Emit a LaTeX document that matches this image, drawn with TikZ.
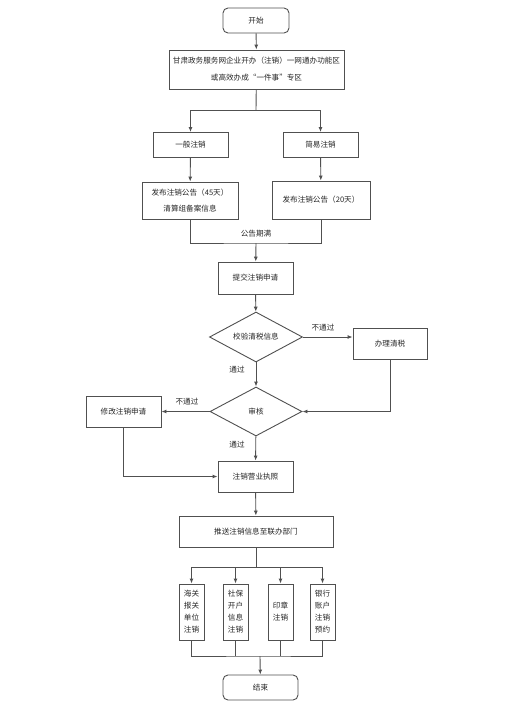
\documentclass[tikz,border=0pt]{standalone}
\usepackage{fontspec}
\setmainfont{Noto Sans CJK SC}
\usetikzlibrary{arrows.meta,shapes.geometric}
\definecolor{ln}{HTML}{505050}
\begin{document}
\begin{tikzpicture}[x=1pt,y=-1pt,
  every node/.style={font=\fontsize{7.6}{9}\selectfont, text=black!85},
  box/.style={draw=ln, line width=0.9pt, rectangle, inner sep=0pt, align=center},
  rbox/.style={box, rounded corners=5pt},
  dia/.style={draw=ln, line width=0.9pt, diamond, inner sep=0pt, aspect=1.8},
  lbl/.style={inner sep=1pt},
  conn/.style={draw=ln, line width=0.9pt},
  arr/.style={conn, -{Latex[length=5pt,width=4pt]}}]
\useasboundingbox (0,0) rectangle (512,724);
\fill[white] (0,0) rectangle (512,724);

\node[rbox, minimum width=66pt, minimum height=25pt] (start) at (256,20.5) {开始};
\node[box, minimum width=175pt, minimum height=39pt, font=\fontsize{7.6}{17}\selectfont] (main) at (256.5,69.5)
  {甘肃政务服务网企业开办（注销）一网通办功能区\\或高效办成“一件事”专区};
\node[box, minimum width=75pt, minimum height=25pt] (gen) at (190.5,145) {一般注销};
\node[box, minimum width=75pt, minimum height=25pt] (simp) at (320.5,145) {简易注销};
\node[box, minimum width=96pt, minimum height=37pt, font=\fontsize{7.6}{16}\selectfont] (pub45) at (190,200.5)
  {发布注销公告（45天）\\清算组备案信息};
\node[box, minimum width=98pt, minimum height=38pt] (pub20) at (321,200) {发布注销公告（20天）};
\node[box, minimum width=75pt, minimum height=32pt] (submit) at (255.5,278) {提交注销申请};
\node[dia, minimum width=93pt, minimum height=50pt] (check) at (256,337) {校验清税信息};
\node[box, minimum width=74pt, minimum height=31pt] (handle) at (390,343.5) {办理清税};
\node[dia, minimum width=92pt, minimum height=49pt] (audit) at (256,411.5) {审核};
\node[box, minimum width=75pt, minimum height=31pt] (modify) at (123.5,411.5) {修改注销申请};
\node[box, minimum width=75pt, minimum height=31pt] (cancel) at (255.5,476.5) {注销营业执照};
\node[box, minimum width=154pt, minimum height=31pt] (push) at (256,531.5) {推送注销信息至联办部门};
\node[box, minimum width=25pt, minimum height=56pt, font=\fontsize{7.6}{12}\selectfont] (b1) at (191.5,612) {海关\\报关\\单位\\注销};
\node[box, minimum width=25pt, minimum height=56pt, font=\fontsize{7.6}{12}\selectfont] (b2) at (235.5,612) {社保\\开户\\信息\\注销};
\node[box, minimum width=25pt, minimum height=56pt, font=\fontsize{7.6}{12}\selectfont] (b3) at (280.5,612) {印章\\注销};
\node[box, minimum width=25pt, minimum height=56pt, font=\fontsize{7.6}{12}\selectfont] (b4) at (322.5,612) {银行\\账户\\注销\\预约};
\node[rbox, minimum width=75pt, minimum height=25pt] (end) at (260.5,687.5) {结束};

\coordinate (split1) at (256,110);
\coordinate (merge1) at (256,243);
\coordinate (split2) at (256,567);
\coordinate (merge2) at (260,656);

\draw[arr] (start) -- (main);
\draw[conn] (main) -- (split1);
\draw[arr] (split1) -| (gen);
\draw[arr] (split1) -| (simp);
\draw[arr] (gen) -- (pub45);
\draw[arr] (simp) -- (pub20);
\draw[conn] (pub45) |- (merge1) -| (pub20);
\node[lbl] (lab1) at (256,234) {公告期满};
\draw[arr] (merge1) -- (submit);
\draw[arr] (submit) -- (check);
\draw[arr] (check.east) -- (check.east -| handle.west);
\node[lbl] (lab2) at (323,328) {不通过};
\draw[arr] (check) -- (audit);
\node[lbl] (lab3) at (237,370) {通过};
\draw[arr] (handle.south) |- (audit.east);
\draw[arr] (audit.west) -- (modify.east);
\node[lbl] (lab4) at (187,402) {不通过};
\draw[arr] (audit) -- (cancel);
\node[lbl] (lab5) at (237,445) {通过};
\draw[arr] (modify.south) |- (cancel.west);
\draw[arr] (cancel) -- (push);
\draw[conn] (push) -- (split2);
\draw[arr] (split2) -| (b1);
\draw[arr] (split2) -| (b2);
\draw[arr] (split2) -| (b3);
\draw[arr] (split2) -| (b4);
\draw[conn] (b1) |- (merge2) -| (b4);
\draw[conn] (b2) -- (b2 |- merge2);
\draw[conn] (b3) -- (b3 |- merge2);
\draw[arr] (merge2) -- (end);
\end{tikzpicture}
\end{document}
